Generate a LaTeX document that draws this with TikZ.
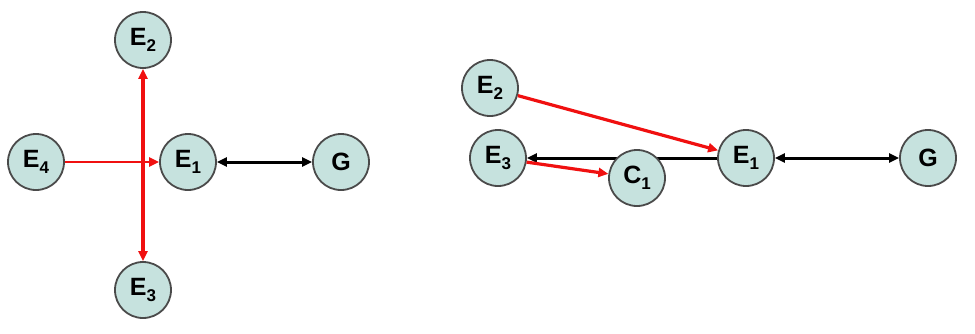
\documentclass[tikz,border=0pt]{standalone}
\usepackage{fontspec}
\setmainfont{Liberation Sans}
\usetikzlibrary{arrows.meta}
\definecolor{nodefill}{HTML}{C6E2DE}
\definecolor{nodeedge}{HTML}{4A4A4A}
\definecolor{linkred}{HTML}{F01010}
\tikzset{
  ent/.style={circle,draw=nodeedge,line width=1.8pt,fill=nodefill,minimum size=56pt,inner sep=0pt,font=\fontsize{25}{25}\selectfont\bfseries},
  tip/.style={Triangle[length=10pt,width=9pt]},
  redlink/.style={draw=linkred,line width=3.2pt,-{Triangle[length=10pt,width=9pt]}},
  redthin/.style={draw=linkred,line width=2.2pt,-{Triangle[length=10pt,width=9pt]}},
  blacklink/.style={draw=black,line width=3pt,{Triangle[length=10pt,width=9pt]}-{Triangle[length=10pt,width=9pt]}},
  blackone/.style={draw=black,line width=3pt,-{Triangle[length=10pt,width=9pt]}}
}
\newcommand{\sbs}[1]{\raisebox{-6pt}{\fontsize{17}{17}\selectfont #1}}
\begin{document}
\begin{tikzpicture}[x=1pt,y=-1pt]
\useasboundingbox (0,0) rectangle (975,333);
% left graph
\node[ent] (lE2) at (143,40) {E\sbs{2}};
\node[ent] (lE4) at (36,162) {E\sbs{4}};
\node[ent] (lE1) at (188,162) {E\sbs{1}};
\node[ent] (lG) at (341,162) {G};
\node[ent] (lE3) at (143,290) {E\sbs{3}};
\draw[redthin] (lE4) -- (lE1);
\draw[redlink,{Triangle[length=10pt,width=9pt]}-{Triangle[length=10pt,width=9pt]}] (lE2) -- (lE3);
\draw[blacklink] (lE1) -- (lG);
% right graph
\node[ent] (rE2) at (490,88) {E\sbs{2}};
\node[ent] (rE3) at (498,158) {E\sbs{3}};
\node[ent] (rE1) at (746,158) {E\sbs{1}};
\node[ent] (rG) at (928,158) {G};
\draw[blackone] (rE1) -- (rE3);
\node[ent] (rC1) at (637,178) {C\sbs{1}};
\draw[redlink] (rE3) -- (rC1);
\draw[redlink] (rE2) -- (rE1);
\draw[blacklink] (rE1) -- (rG);
\end{tikzpicture}
\end{document}
